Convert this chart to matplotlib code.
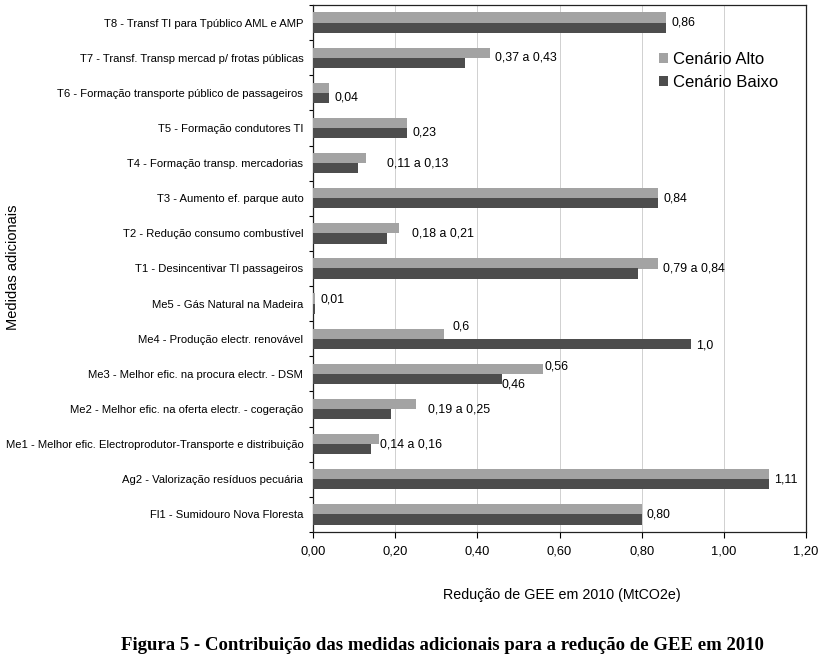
import matplotlib
matplotlib.use("Agg")
import matplotlib.pyplot as plt
import numpy as np
from matplotlib.ticker import FixedLocator, MultipleLocator, FuncFormatter

categories = [
    "T8 - Transf TI para Tpúblico AML e AMP",
    "T7 - Transf. Transp mercad p/ frotas públicas",
    "T6 - Formação transporte público de passageiros",
    "T5 - Formação condutores TI",
    "T4 - Formação transp. mercadorias",
    "T3 - Aumento ef. parque auto",
    "T2 - Redução consumo combustível",
    "T1 - Desincentivar TI passageiros",
    "Me5 - Gás Natural na Madeira",
    "Me4 - Produção electr. renovável",
    "Me3 - Melhor efic. na procura electr. - DSM",
    "Me2 - Melhor efic. na oferta electr. - cogeração",
    "Me1 - Melhor efic. Electroprodutor-Transporte e distribuição",
    "Ag2 - Valorização resíduos pecuária",
    "Fl1 - Sumidouro Nova Floresta",
]
alto = [0.86, 0.43, 0.04, 0.23, 0.13, 0.84, 0.21, 0.84, 0.006, 0.32, 0.56, 0.25, 0.16, 1.11, 0.80]
baixo = [0.86, 0.37, 0.04, 0.23, 0.11, 0.84, 0.18, 0.79, 0.006, 0.92, 0.46, 0.19, 0.14, 1.11, 0.80]
label_texts = ["0,86", "0,37 a 0,43", "0,04", "0,23", "0,11 a 0,13", "0,84", "0,18 a 0,21",
               "0,79 a 0,84", "0,01", None, None, "0,19 a 0,25", "0,14 a 0,16", "1,11", "0,80"]
me4_labels = ["0,6", "1,0"]
me3_labels = ["0,56", "0,46"]

fig = plt.figure(figsize=(8.30, 6.62), dpi=100)
ax = fig.add_axes([313/830, 1-532/662, (806-313)/830, (532-5)/662])

n = len(categories)
y = np.arange(n)
h = 0.29
c_alto = "#a3a3a3"
c_baixo = "#4d4d4d"
ax.barh(y - h/2, alto, height=h, color=c_alto, label="Cenário Alto", zorder=3)
ax.barh(y + h/2, baixo, height=h, color=c_baixo, label="Cenário Baixo", zorder=3)

ax.set_xlim(0, 1.2)
ax.set_ylim(n - 0.5, -0.5)
ax.xaxis.set_major_locator(MultipleLocator(0.2))
ax.xaxis.set_major_formatter(FuncFormatter(lambda v, p: f"{v:.2f}".replace(".", ",")))
ax.grid(axis="x", color="#d0d0d0", linewidth=0.7, zorder=0)
ax.set_yticks(y)
ax.set_yticklabels(categories, fontsize=8.1, family="Liberation Sans")
ax.yaxis.set_minor_locator(FixedLocator(np.arange(n + 1) - 0.5))
ax.tick_params(axis="y", which="major", length=0, pad=7)
ax.tick_params(axis="y", which="minor", length=3, width=0.8)
ax.tick_params(axis="x", labelsize=9.3, length=4, width=0.8, pad=6)
for lbl in ax.get_xticklabels():
    lbl.set_family("Liberation Sans")
for s in ax.spines.values():
    s.set_linewidth(0.9)
    s.set_color("#222222")

fs = 8.9
off = 0.012
for i, t in enumerate(label_texts):
    if t is None:
        continue
    xv = max(alto[i], baixo[i])
    yy = y[i]
    if t.startswith("0,11") or t.startswith("0,18") or t.startswith("0,19"):
        ax.text(xv + 0.05 if t.startswith("0,11") else xv + 0.03, yy, t, va="center", ha="left", fontsize=fs, family="Liberation Sans")
    elif t == "0,04" or t == "0,23":
        ax.text(xv + off, yy + 0.12, t, va="center", ha="left", fontsize=fs, family="Liberation Sans")
    elif t == "0,01":
        ax.text(xv + off, yy - 0.12, t, va="center", ha="left", fontsize=fs, family="Liberation Sans")
    elif t == "0,14 a 0,16":
        ax.text(xv + 0.002, yy, t, va="center", ha="left", fontsize=fs, family="Liberation Sans")
    else:
        ax.text(xv + off, yy, t, va="center", ha="left", fontsize=fs, family="Liberation Sans")

i4 = categories.index("Me4 - Produção electr. renovável")
ax.text(alto[i4] + 0.02, y[i4] - 0.35, me4_labels[0], va="center", ha="left", fontsize=fs, family="Liberation Sans")
ax.text(baixo[i4] + 0.012, y[i4] + 0.2, me4_labels[1], va="center", ha="left", fontsize=fs, family="Liberation Sans")
i3 = categories.index("Me3 - Melhor efic. na procura electr. - DSM")
ax.text(alto[i3] + 0.004, y[i3] - 0.2, me3_labels[0], va="center", ha="left", fontsize=fs, family="Liberation Sans")
ax.text(baixo[i3] - 0.002, y[i3] + 0.3, me3_labels[1], va="center", ha="left", fontsize=fs, family="Liberation Sans")

leg = ax.legend(loc="upper left", bbox_to_anchor=(0.672, 0.94), frameon=False,
                prop={"family": "Liberation Sans", "size": 12},
                handlelength=0.55, handleheight=0.55, handletextpad=0.3, labelspacing=0.5)

fig.text(562/830, 1-595/662, "Redução de GEE em 2010 (MtCO2e)", ha="center", va="center",
         fontsize=10.3, family="Liberation Sans")
fig.text(13/830, 1-267/662, "Medidas adicionais", ha="center", va="center", rotation=90,
         fontsize=10.5, family="Liberation Sans")
fig.text(442/830, 1-646/662, "Figura 5 - Contribuição das medidas adicionais para a redução de GEE em 2010",
         ha="center", va="center", fontsize=13.5, fontweight="bold", family="Liberation Serif")

fig.savefig("out.png", dpi=100)
